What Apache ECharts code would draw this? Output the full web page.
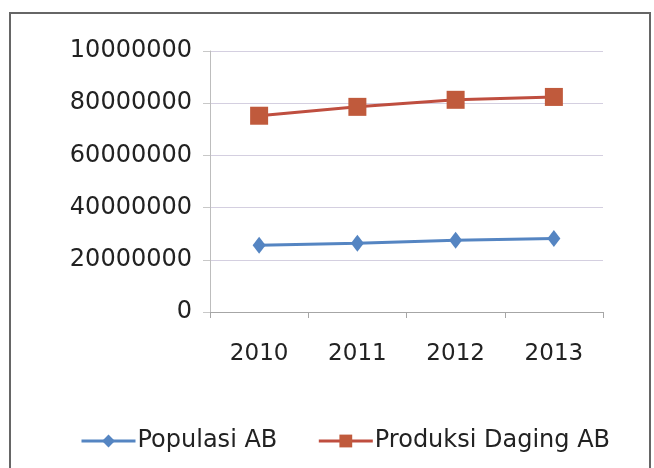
<!DOCTYPE html>
<html>
<head>
    <meta charset="utf-8">
    <title>Populasi dan Produksi Daging AB</title>
    <script type="text/javascript" src="https://cdn.jsdelivr.net/npm/echarts@6/dist/echarts.min.js"></script>
    <style>
        html, body { margin: 0; padding: 0; background: #fff; }
        #main { width: 654px; height: 468px; }
    </style>
</head>
<body>
    <div id="main"></div>

    <script type="text/javascript">
        // data
        var years = ['2010', '2011', '2012', '2013'];
        var populasi = [25600000, 26300000, 27500000, 28200000];
        var produksi = [75200000, 78600000, 81300000, 82400000];
        // tick labels as printed (top one is printed without a zero)
        var yTicks = ['0', '20000000', '40000000', '60000000', '80000000', '10000000'];

        var font = 'DejaVu Sans';
        var chart = echarts.init(document.getElementById('main'));
        chart.setOption({
            animation: false,
            graphic: [{
                type: 'rect',
                shape: { x: 10, y: 13, width: 640, height: 470 },
                style: { fill: 'none', stroke: '#666', lineWidth: 2 },
                silent: true
            }],
            grid: { left: 210, right: 51, top: 51, bottom: 156 },
            legend: {
                data: ['Populasi AB', 'Produksi Daging AB'],
                top: 424,
                left: 75,
                itemWidth: 54,
                itemHeight: 16,
                itemGap: 40,
                lineStyle: { width: 3 },
                textStyle: { fontFamily: font, fontSize: 24, color: '#222', padding: [0, 0, 0, -3] }
            },
            xAxis: {
                type: 'category',
                data: years,
                boundaryGap: true,
                axisLine: { lineStyle: { color: '#a6a6a6' } },
                axisTick: { show: true, length: 6, lineStyle: { color: '#a6a6a6' } },
                axisLabel: { margin: 31, fontFamily: font, fontSize: 23, color: '#222' }
            },
            yAxis: {
                type: 'value',
                min: 0,
                max: 100000000,
                interval: 20000000,
                axisLine: { show: true, lineStyle: { color: '#bdbdbd' } },
                axisTick: { show: true, length: 7, lineStyle: { color: '#c8c8c8' } },
                splitLine: { lineStyle: { color: '#d4cfe0' } },
                axisLabel: {
                    margin: 18,
                    fontFamily: font,
                    fontSize: 24,
                    color: '#222',
                    formatter: function (v) {
                        return yTicks[Math.round(v / 20000000)];
                    }
                }
            },
            series: [
                {
                    name: 'Populasi AB',
                    type: 'line',
                    data: populasi,
                    symbol: 'diamond',
                    symbolSize: [13, 17],
                    itemStyle: { color: '#5585c2' },
                    lineStyle: { color: '#5585c2', width: 3 }
                },
                {
                    name: 'Produksi Daging AB',
                    type: 'line',
                    data: produksi,
                    symbol: 'rect',
                    symbolSize: 18,
                    itemStyle: { color: '#c05a3c' },
                    lineStyle: { color: '#bf4e3f', width: 3 }
                }
            ]
        });
    </script>
</body>
</html>
